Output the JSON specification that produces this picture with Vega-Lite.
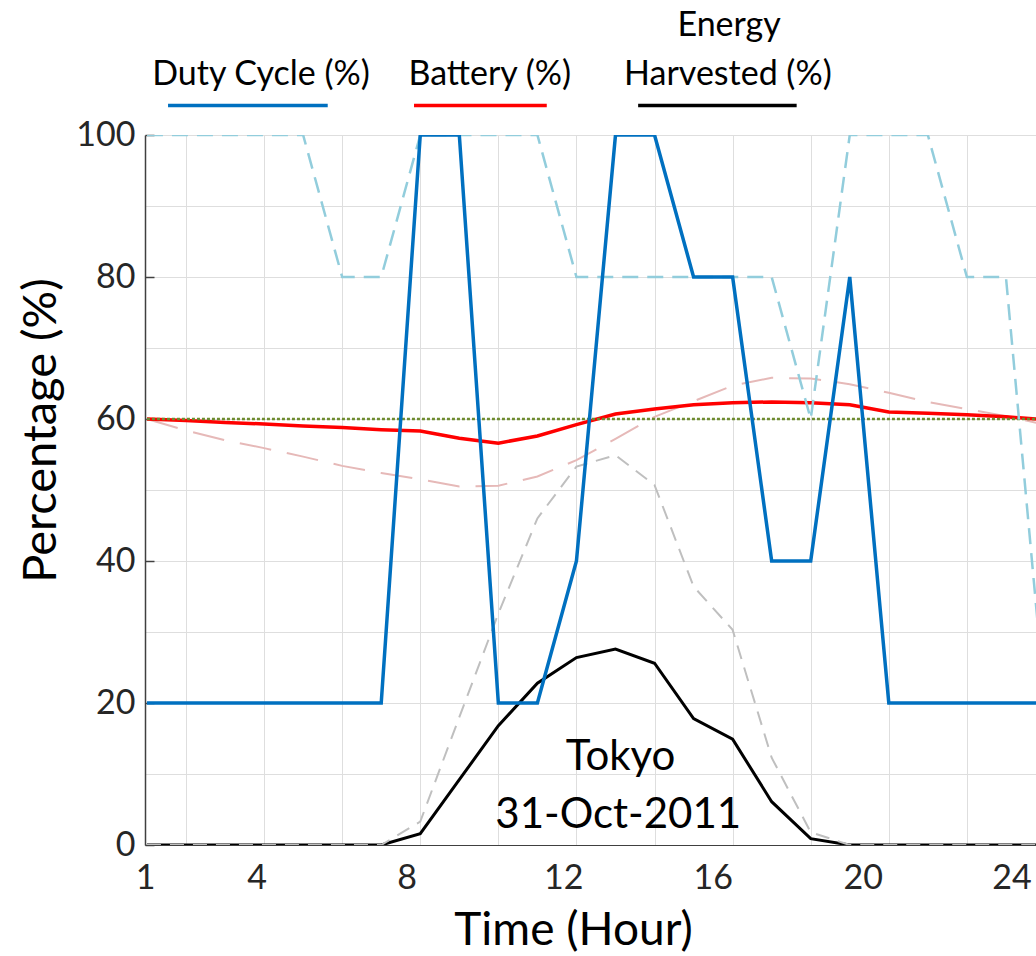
{
  "$schema": "https://vega.github.io/schema/vega-lite/v6.json",
  "width": 891,
  "height": 710,
  "autosize": "none",
  "padding": {"left": 145, "top": 135, "right": 0, "bottom": 111},
  "background": "white",
  "config": {"view": {"stroke": null}, "font": "Lato"},
  "datasets": {
    "series": [
      {"series": "Duty Cycle", "hour": 1, "value": 20}, {"series": "Duty Cycle", "hour": 2, "value": 20}, {"series": "Duty Cycle", "hour": 3, "value": 20}, {"series": "Duty Cycle", "hour": 4, "value": 20}, {"series": "Duty Cycle", "hour": 5, "value": 20}, {"series": "Duty Cycle", "hour": 6, "value": 20}, {"series": "Duty Cycle", "hour": 7, "value": 20}, {"series": "Duty Cycle", "hour": 8, "value": 100}, {"series": "Duty Cycle", "hour": 9, "value": 100}, {"series": "Duty Cycle", "hour": 10, "value": 20}, {"series": "Duty Cycle", "hour": 11, "value": 20}, {"series": "Duty Cycle", "hour": 12, "value": 40}, {"series": "Duty Cycle", "hour": 13, "value": 100}, {"series": "Duty Cycle", "hour": 14, "value": 100}, {"series": "Duty Cycle", "hour": 15, "value": 80}, {"series": "Duty Cycle", "hour": 16, "value": 80}, {"series": "Duty Cycle", "hour": 17, "value": 40}, {"series": "Duty Cycle", "hour": 18, "value": 40}, {"series": "Duty Cycle", "hour": 19, "value": 80}, {"series": "Duty Cycle", "hour": 20, "value": 20}, {"series": "Duty Cycle", "hour": 21, "value": 20}, {"series": "Duty Cycle", "hour": 22, "value": 20}, {"series": "Duty Cycle", "hour": 23, "value": 20}, {"series": "Duty Cycle", "hour": 24, "value": 20},
      {"series": "Duty Cycle (reference)", "hour": 1, "value": 100}, {"series": "Duty Cycle (reference)", "hour": 2, "value": 100}, {"series": "Duty Cycle (reference)", "hour": 3, "value": 100}, {"series": "Duty Cycle (reference)", "hour": 4, "value": 100}, {"series": "Duty Cycle (reference)", "hour": 5, "value": 100}, {"series": "Duty Cycle (reference)", "hour": 6, "value": 80}, {"series": "Duty Cycle (reference)", "hour": 7, "value": 80}, {"series": "Duty Cycle (reference)", "hour": 8, "value": 100}, {"series": "Duty Cycle (reference)", "hour": 9, "value": 100}, {"series": "Duty Cycle (reference)", "hour": 10, "value": 100}, {"series": "Duty Cycle (reference)", "hour": 11, "value": 100}, {"series": "Duty Cycle (reference)", "hour": 12, "value": 80}, {"series": "Duty Cycle (reference)", "hour": 13, "value": 80}, {"series": "Duty Cycle (reference)", "hour": 14, "value": 80}, {"series": "Duty Cycle (reference)", "hour": 15, "value": 80}, {"series": "Duty Cycle (reference)", "hour": 16, "value": 80}, {"series": "Duty Cycle (reference)", "hour": 17, "value": 80}, {"series": "Duty Cycle (reference)", "hour": 18, "value": 60}, {"series": "Duty Cycle (reference)", "hour": 19, "value": 100}, {"series": "Duty Cycle (reference)", "hour": 20, "value": 100}, {"series": "Duty Cycle (reference)", "hour": 21, "value": 100}, {"series": "Duty Cycle (reference)", "hour": 22, "value": 80}, {"series": "Duty Cycle (reference)", "hour": 23, "value": 80}, {"series": "Duty Cycle (reference)", "hour": 24, "value": 20},
      {"series": "Battery", "hour": 1, "value": 60.0}, {"series": "Battery", "hour": 2, "value": 59.8}, {"series": "Battery", "hour": 3, "value": 59.5}, {"series": "Battery", "hour": 4, "value": 59.3}, {"series": "Battery", "hour": 5, "value": 59.0}, {"series": "Battery", "hour": 6, "value": 58.8}, {"series": "Battery", "hour": 7, "value": 58.5}, {"series": "Battery", "hour": 8, "value": 58.3}, {"series": "Battery", "hour": 9, "value": 57.3}, {"series": "Battery", "hour": 10, "value": 56.6}, {"series": "Battery", "hour": 11, "value": 57.6}, {"series": "Battery", "hour": 12, "value": 59.2}, {"series": "Battery", "hour": 13, "value": 60.7}, {"series": "Battery", "hour": 14, "value": 61.4}, {"series": "Battery", "hour": 15, "value": 62.0}, {"series": "Battery", "hour": 16, "value": 62.3}, {"series": "Battery", "hour": 17, "value": 62.4}, {"series": "Battery", "hour": 18, "value": 62.3}, {"series": "Battery", "hour": 19, "value": 62.0}, {"series": "Battery", "hour": 20, "value": 61.0}, {"series": "Battery", "hour": 21, "value": 60.8}, {"series": "Battery", "hour": 22, "value": 60.6}, {"series": "Battery", "hour": 23, "value": 60.3}, {"series": "Battery", "hour": 24, "value": 59.9},
      {"series": "Battery (reference)", "hour": 1, "value": 60.0}, {"series": "Battery (reference)", "hour": 2, "value": 58.4}, {"series": "Battery (reference)", "hour": 3, "value": 57.0}, {"series": "Battery (reference)", "hour": 4, "value": 55.9}, {"series": "Battery (reference)", "hour": 5, "value": 54.7}, {"series": "Battery (reference)", "hour": 6, "value": 53.4}, {"series": "Battery (reference)", "hour": 7, "value": 52.4}, {"series": "Battery (reference)", "hour": 8, "value": 51.5}, {"series": "Battery (reference)", "hour": 9, "value": 50.5}, {"series": "Battery (reference)", "hour": 10, "value": 50.6}, {"series": "Battery (reference)", "hour": 11, "value": 51.9}, {"series": "Battery (reference)", "hour": 12, "value": 54.2}, {"series": "Battery (reference)", "hour": 13, "value": 57.2}, {"series": "Battery (reference)", "hour": 14, "value": 60.3}, {"series": "Battery (reference)", "hour": 15, "value": 62.5}, {"series": "Battery (reference)", "hour": 16, "value": 64.7}, {"series": "Battery (reference)", "hour": 17, "value": 65.8}, {"series": "Battery (reference)", "hour": 18, "value": 65.7}, {"series": "Battery (reference)", "hour": 19, "value": 64.9}, {"series": "Battery (reference)", "hour": 20, "value": 63.7}, {"series": "Battery (reference)", "hour": 21, "value": 62.4}, {"series": "Battery (reference)", "hour": 22, "value": 61.4}, {"series": "Battery (reference)", "hour": 23, "value": 60.4}, {"series": "Battery (reference)", "hour": 24, "value": 59.2},
      {"series": "Energy Harvested", "hour": 1, "value": 0}, {"series": "Energy Harvested", "hour": 2, "value": 0}, {"series": "Energy Harvested", "hour": 3, "value": 0}, {"series": "Energy Harvested", "hour": 4, "value": 0}, {"series": "Energy Harvested", "hour": 5, "value": 0}, {"series": "Energy Harvested", "hour": 6, "value": 0}, {"series": "Energy Harvested", "hour": 7, "value": 0}, {"series": "Energy Harvested", "hour": 8, "value": 1.6}, {"series": "Energy Harvested", "hour": 9, "value": 9.2}, {"series": "Energy Harvested", "hour": 10, "value": 16.8}, {"series": "Energy Harvested", "hour": 11, "value": 22.8}, {"series": "Energy Harvested", "hour": 12, "value": 26.4}, {"series": "Energy Harvested", "hour": 13, "value": 27.6}, {"series": "Energy Harvested", "hour": 14, "value": 25.6}, {"series": "Energy Harvested", "hour": 15, "value": 17.8}, {"series": "Energy Harvested", "hour": 16, "value": 14.9}, {"series": "Energy Harvested", "hour": 17, "value": 6.1}, {"series": "Energy Harvested", "hour": 18, "value": 0.9}, {"series": "Energy Harvested", "hour": 19, "value": 0}, {"series": "Energy Harvested", "hour": 20, "value": 0}, {"series": "Energy Harvested", "hour": 21, "value": 0}, {"series": "Energy Harvested", "hour": 22, "value": 0}, {"series": "Energy Harvested", "hour": 23, "value": 0}, {"series": "Energy Harvested", "hour": 24, "value": 0},
      {"series": "Energy Harvested (reference)", "hour": 1, "value": 0}, {"series": "Energy Harvested (reference)", "hour": 2, "value": 0}, {"series": "Energy Harvested (reference)", "hour": 3, "value": 0}, {"series": "Energy Harvested (reference)", "hour": 4, "value": 0}, {"series": "Energy Harvested (reference)", "hour": 5, "value": 0}, {"series": "Energy Harvested (reference)", "hour": 6, "value": 0}, {"series": "Energy Harvested (reference)", "hour": 7, "value": 0}, {"series": "Energy Harvested (reference)", "hour": 8, "value": 3.3}, {"series": "Energy Harvested (reference)", "hour": 9, "value": 18.0}, {"series": "Energy Harvested (reference)", "hour": 10, "value": 32.6}, {"series": "Energy Harvested (reference)", "hour": 11, "value": 46.0}, {"series": "Energy Harvested (reference)", "hour": 12, "value": 53.3}, {"series": "Energy Harvested (reference)", "hour": 13, "value": 54.9}, {"series": "Energy Harvested (reference)", "hour": 14, "value": 50.7}, {"series": "Energy Harvested (reference)", "hour": 15, "value": 36.4}, {"series": "Energy Harvested (reference)", "hour": 16, "value": 30.3}, {"series": "Energy Harvested (reference)", "hour": 17, "value": 12.3}, {"series": "Energy Harvested (reference)", "hour": 18, "value": 1.8}, {"series": "Energy Harvested (reference)", "hour": 19, "value": 0}, {"series": "Energy Harvested (reference)", "hour": 20, "value": 0}, {"series": "Energy Harvested (reference)", "hour": 21, "value": 0}, {"series": "Energy Harvested (reference)", "hour": 22, "value": 0}, {"series": "Energy Harvested (reference)", "hour": 23, "value": 0}, {"series": "Energy Harvested (reference)", "hour": 24, "value": 0},
      {"series": "Threshold", "hour": 1, "value": 60}, {"series": "Threshold", "hour": 24, "value": 60}
    ],
    "key": [
      {"series": "Duty Cycle", "hour": 1.54, "hour2": 5.63, "value": 104.15},
      {"series": "Battery", "hour": 7.84, "hour2": 11.24, "value": 104.15},
      {"series": "Energy Harvested", "hour": 13.58, "hour2": 17.64, "value": 104.15}
    ],
    "keyLabels": [
      {"label": "Duty Cycle (%)", "hour": 3.92, "value": 107.04},
      {"label": "Battery (%)", "hour": 9.78, "value": 107.04},
      {"label": "Energy", "hour": 15.91, "value": 113.94},
      {"label": "Harvested (%)", "hour": 15.88, "value": 107.04}
    ],
    "notes": [
      {"label": "Tokyo", "hour": 13.13, "value": 10.56},
      {"label": "31-Oct-2011", "hour": 13.07, "value": 2.35}
    ]
  },
  "encoding": {
    "x": {
      "field": "hour",
      "type": "quantitative",
      "scale": {"domain": [0.95, 23.77], "nice": false, "zero": false},
      "axis": {
        "values": [0.95, 2, 3.81, 4, 6, 7.65, 8, 10, 11.66, 12, 14, 15.49, 16, 18, 19.33, 20, 22, 23.14],
        "labelExpr": "datum.value % 2 === 0 ? '' : format(round(datum.value * 1.04), 'd')",
        "gridOpacity": {"condition": {"test": "datum.value % 2 === 0", "value": 1}, "value": 0},
        "grid": true,
        "gridColor": "#DEDEDE",
        "gridWidth": 1,
        "ticks": false,
        "labelPadding": 16,
        "labelFont": "Lato",
        "labelFontSize": 34,
        "labelColor": "#262626",
        "labelFlush": false,
        "labelOverlap": false,
        "domainColor": "#404040",
        "domainWidth": 1,
        "title": "Time (Hour)",
        "titleFont": "Lato",
        "titleFontSize": 46,
        "titleFontWeight": "normal",
        "titleColor": "#000000",
        "titleX": 428,
        "titleY": 99,
        "titleAlign": "center",
        "titleBaseline": "alphabetic"
      }
    },
    "y": {
      "field": "value",
      "type": "quantitative",
      "scale": {"domain": [0, 100], "nice": false},
      "axis": {
        "values": [0, 10, 20, 30, 40, 50, 60, 70, 80, 90, 100],
        "labelExpr": "datum.value % 20 === 0 ? datum.label : ''",
        "tickOpacity": {"condition": {"test": "datum.value % 20 === 0", "value": 1}, "value": 0},
        "tickSize": -9,
        "tickColor": "#404040",
        "tickWidth": 1.5,
        "grid": true,
        "gridColor": "#DEDEDE",
        "gridWidth": 1,
        "labelPadding": 19,
        "labelFont": "Lato",
        "labelFontSize": 34,
        "labelColor": "#262626",
        "labelOverlap": false,
        "labelFlush": false,
        "domainColor": "#404040",
        "domainWidth": 1.5,
        "title": "Percentage (%)",
        "titleFont": "Lato",
        "titleFontSize": 47,
        "titleFontWeight": "normal",
        "titleColor": "#000000",
        "titleX": -90,
        "titleY": 295,
        "titleAngle": -90,
        "titleAlign": "center",
        "titleBaseline": "alphabetic"
      }
    }
  },
  "layer": [
    {
      "data": {"name": "series"},
      "encoding": {
        "color": {
          "field": "series",
          "type": "nominal",
          "scale": {
            "domain": ["Duty Cycle", "Duty Cycle (reference)", "Battery", "Battery (reference)", "Energy Harvested", "Energy Harvested (reference)", "Threshold"],
            "range": ["#0070C0", "#92CDDC", "#FF0000", "#E6B9B8", "#000000", "#BFBFBF", "#6E8B2F"]
          },
          "legend": null
        }
      },
      "layer": [
        {"transform": [{"filter": "datum.series === 'Battery (reference)'"}], "mark": {"type": "line", "strokeWidth": 2, "strokeDash": [32, 16], "clip": true}},
        {"transform": [{"filter": "datum.series === 'Battery'"}], "mark": {"type": "line", "strokeWidth": 3.5, "clip": true}},
        {"transform": [{"filter": "datum.series === 'Threshold'"}], "mark": {"type": "line", "strokeWidth": 2.5, "strokeDash": [3, 2], "clip": true}},
        {"transform": [{"filter": "datum.series === 'Energy Harvested'"}], "mark": {"type": "line", "strokeWidth": 3, "clip": true}},
        {"transform": [{"filter": "datum.series === 'Energy Harvested (reference)'"}], "mark": {"type": "line", "strokeWidth": 2, "strokeDash": [14, 9], "clip": true}},
        {"transform": [{"filter": "datum.series === 'Duty Cycle (reference)'"}], "mark": {"type": "line", "strokeWidth": 2.5, "strokeDash": [16, 9], "clip": true}},
        {"transform": [{"filter": "datum.series === 'Duty Cycle'"}], "mark": {"type": "line", "strokeWidth": 3.5, "clip": true}}
      ]
    },
    {
      "data": {"name": "key"},
      "mark": {"type": "rule", "strokeWidth": 3.5},
      "encoding": {
        "x2": {"field": "hour2"},
        "color": {"field": "series", "type": "nominal", "legend": null}
      }
    },
    {
      "data": {"name": "keyLabels"},
      "mark": {"type": "text", "font": "Lato", "fontSize": 34, "align": "center", "baseline": "alphabetic", "color": "#000000"},
      "encoding": {"text": {"field": "label"}}
    },
    {
      "data": {"name": "notes"},
      "mark": {"type": "text", "font": "Lato", "fontSize": 42, "align": "center", "baseline": "alphabetic", "color": "#000000"},
      "encoding": {"text": {"field": "label"}}
    }
  ]
}
